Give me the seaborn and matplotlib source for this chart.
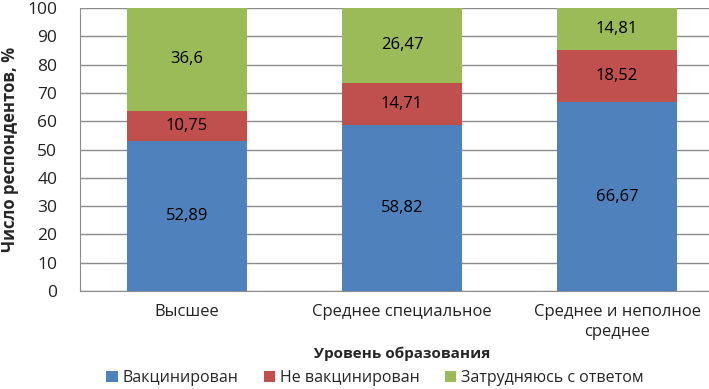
import numpy as np
import pandas as pd
import matplotlib
matplotlib.use("Agg")
import matplotlib.pyplot as plt
import seaborn as sns

categories = ["Высшее", "Среднее специальное", "Среднее и неполное\nсреднее"]
vaccinated = [52.89, 58.82, 66.67]
not_vaccinated = [10.75, 14.71, 18.52]
undecided = [36.6, 26.47, 14.81]
series_names = ["Вакцинирован", "Не вакцинирован", "Затрудняюсь с ответом"]
colors = ["#4F81BD", "#C0504D", "#9BBB59"]

sns.set_style("white")
plt.rcParams["font.family"] = ["Open Sans", "DejaVu Sans"]

df = pd.DataFrame({"cat": categories, "v": vaccinated, "n": not_vaccinated, "u": undecided})

fig = plt.figure(figsize=(7.09, 3.89), dpi=100)
# axis area is wider than the picture (cropped on the right like the original)
ax = fig.add_axes([79.5 / 709, 1 - 291 / 389, 645 / 709, 283 / 389])

bottom = np.zeros(len(df))
for col, name, c in zip(["v", "n", "u"], series_names, colors):
    sns.barplot(data=df, x="cat", y=col, color=c, width=0.56, bottom=bottom,
                ax=ax, label=name, saturation=1, linewidth=0)
    vals = df[col].values
    for i, val in enumerate(vals):
        ax.text(i, bottom[i] + val / 2, f"{val:g}".replace(".", ","),
                ha="center", va="center", fontsize=12, color="black")
    bottom = bottom + vals

ax.set_ylim(0, 100)
ax.set_xlim(-0.5, 2.5)
ax.set_yticks(range(0, 101, 10))
ax.yaxis.grid(True, color="#8c8c8c", linewidth=1)
ax.set_axisbelow(True)
for s in ["top", "right"]:
    ax.spines[s].set_visible(False)
for s in ["left", "bottom"]:
    ax.spines[s].set_color("#8c8c8c")
ax.tick_params(axis="both", length=0, colors="#222222")
ax.tick_params(axis="y", pad=16, labelsize=12.5)
ax.tick_params(axis="x", pad=9, labelsize=12)
for t in ax.get_xticklabels():
    t.set_linespacing(1.35)
ax.set_ylabel("Число респондентов, %", fontsize=12, fontweight="bold", labelpad=6)
ax.set_xlabel("Уровень образования", fontsize=11, fontweight="bold")
ax.xaxis.set_label_coords(0.5, -(347 - 291) / 283)

handles, labels = ax.get_legend_handles_labels()
if ax.legend_:
    ax.legend_.remove()
fig.legend(handles, labels, loc="center left", bbox_to_anchor=(92 / 709, 1 - 378 / 389),
           ncol=3, frameon=False, fontsize=11.5, handlelength=0.7, handleheight=0.7,
           handletextpad=0.3, columnspacing=1.6)

fig.savefig("out.png", dpi=100)
